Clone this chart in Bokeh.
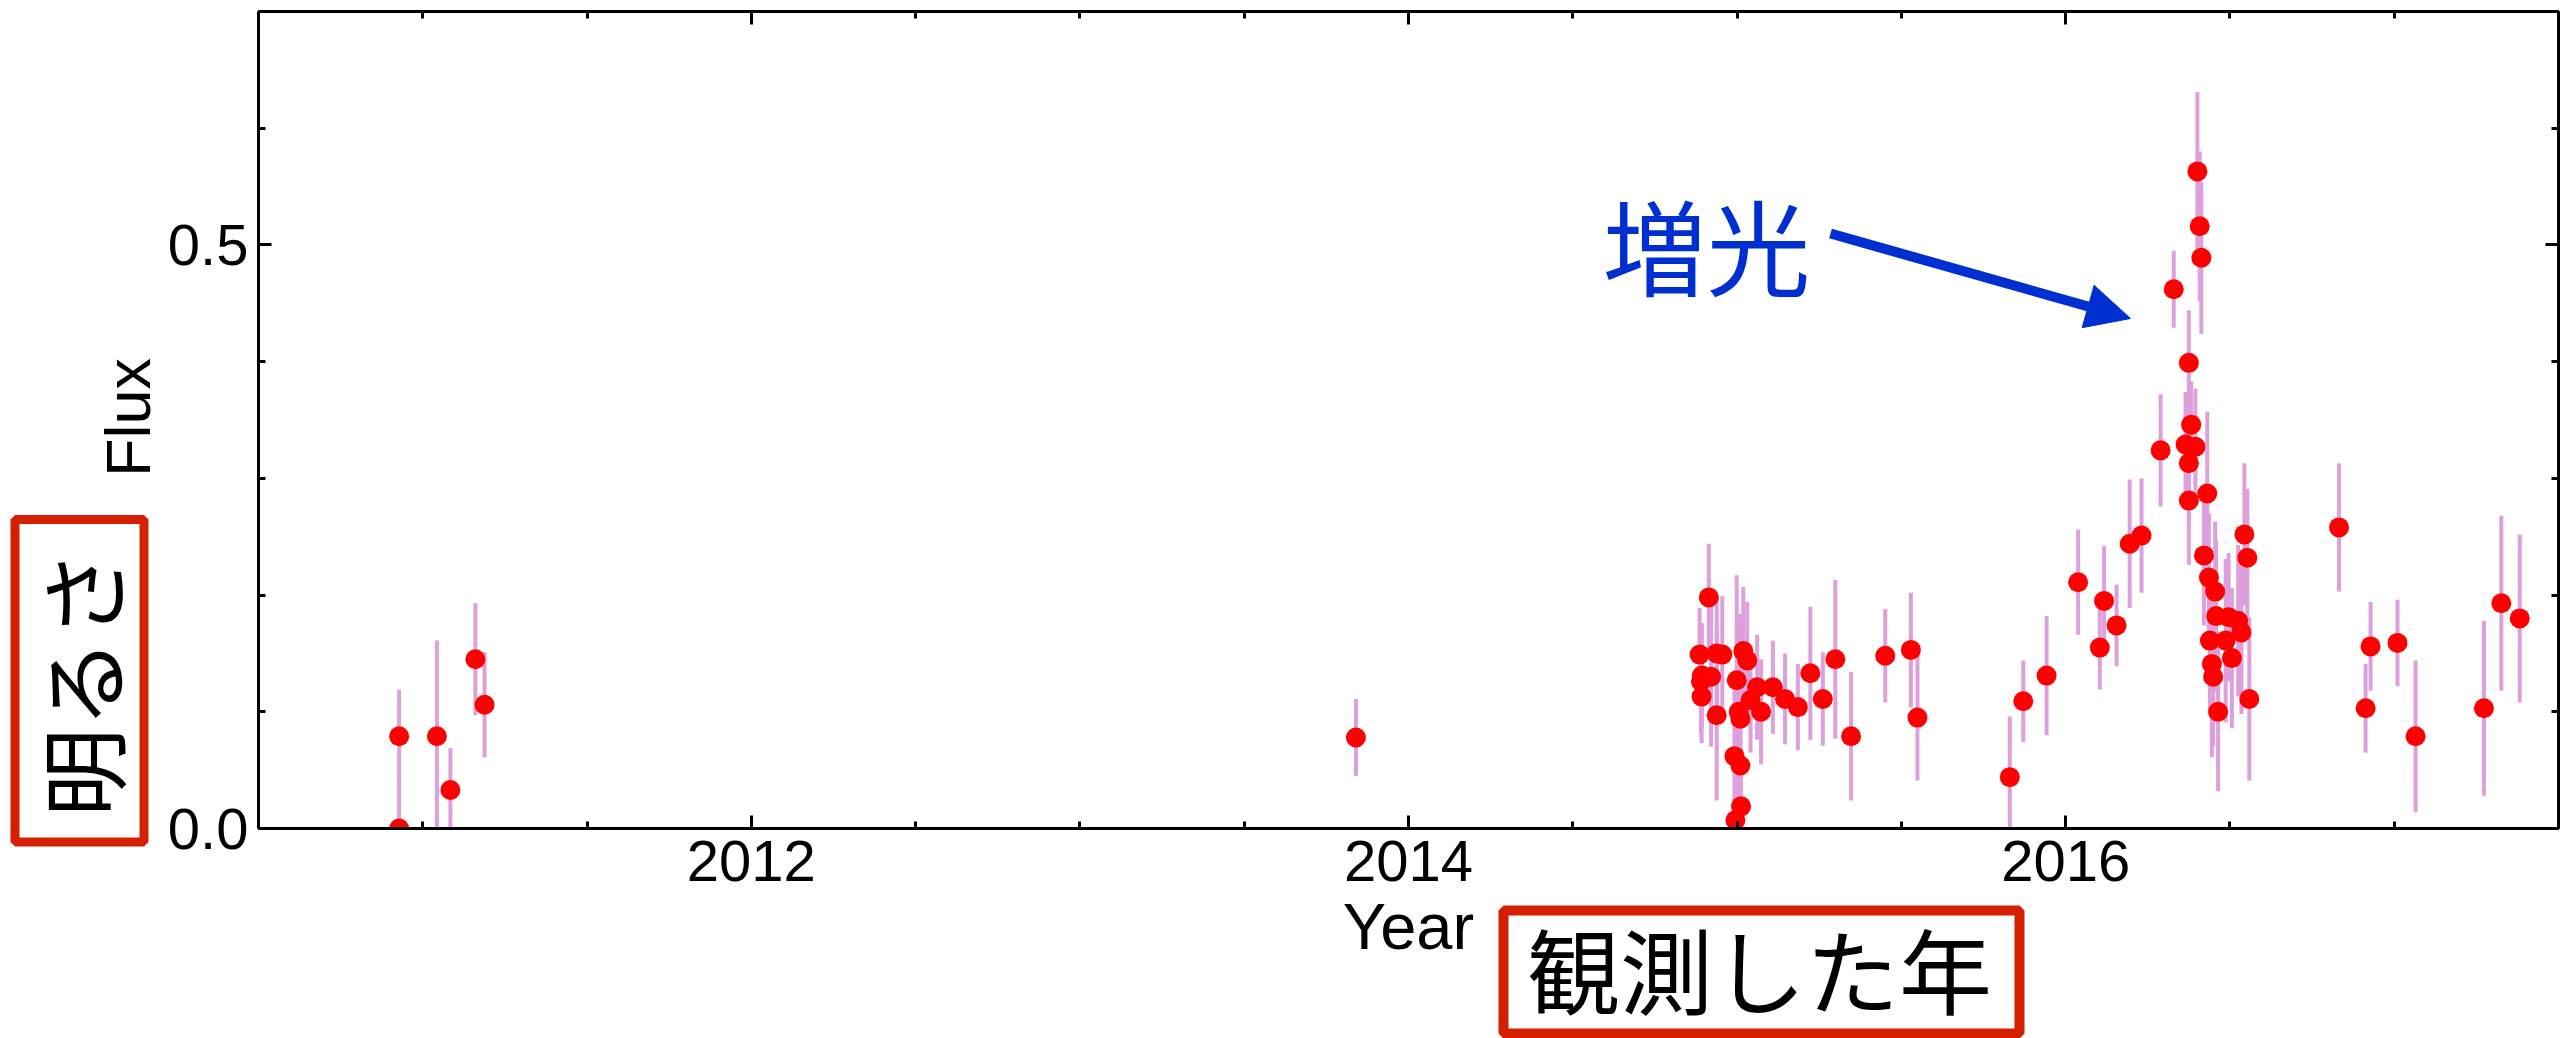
import math
from bokeh.plotting import figure
from bokeh.models import (ColumnDataSource, Range1d, LinearAxis, FixedTicker,
                          Label, Arrow, NormalHead, BoxAnnotation)
from bokeh.embed import file_html
from bokeh.resources import INLINE

# ---------------- data ----------------
year = [
    2010.928, 2010.928, 2011.043, 2011.084, 2011.160, 2011.188, 2013.840,
    2014.886, 2014.890, 2014.892, 2014.893, 2014.914, 2014.921, 2014.938,
    2014.938, 2014.955, 2014.992, 2014.995, 2014.999, 2015.005, 2015.010,
    2015.010, 2015.012, 2015.019, 2015.031, 2015.041, 2015.061, 2015.073,
    2015.109, 2015.146, 2015.185, 2015.223, 2015.261, 2015.299, 2015.347,
    2015.451, 2015.529, 2015.549, 2015.830, 2015.871, 2015.942,
    2016.038, 2016.104, 2016.117, 2016.155, 2016.195, 2016.231, 2016.289,
    2016.329, 2016.365, 2016.375, 2016.375, 2016.375, 2016.382, 2016.395,
    2016.401, 2016.408, 2016.413, 2016.421, 2016.431, 2016.436, 2016.439,
    2016.445, 2016.449, 2016.455, 2016.458, 2016.464, 2016.487, 2016.496,
    2016.506, 2016.525, 2016.535, 2016.544, 2016.553, 2016.559,
    2016.832, 2016.913, 2016.928, 2017.010, 2017.065, 2017.273, 2017.326,
    2017.382,
]
flux = [
    0.079, 0.000, 0.079, 0.033, 0.145, 0.106, 0.078,
    0.149, 0.126, 0.113, 0.131, 0.198, 0.130, 0.150,
    0.097, 0.149, 0.062, 0.007, 0.127, 0.100, 0.094,
    0.054, 0.019, 0.152, 0.144, 0.110, 0.121, 0.100,
    0.121, 0.111, 0.104, 0.133, 0.111, 0.145, 0.079,
    0.148, 0.153, 0.095, 0.044, 0.109, 0.131,
    0.211, 0.155, 0.195, 0.174, 0.244, 0.251, 0.324,
    0.462, 0.329, 0.399, 0.313, 0.281, 0.346, 0.327,
    0.563, 0.516, 0.489, 0.234, 0.287, 0.215, 0.161,
    0.141, 0.130, 0.203, 0.182, 0.100, 0.161, 0.181,
    0.146, 0.178, 0.168, 0.252, 0.232, 0.111,
    0.258, 0.103, 0.156, 0.159, 0.079, 0.103, 0.193,
    0.180,
]
flux_err = [
    0.040, 0.040, 0.082, 0.036, 0.048, 0.045, 0.033,
    0.040, 0.045, 0.040, 0.045, 0.046, 0.060, 0.050,
    0.073, 0.050, 0.060, 0.050, 0.090, 0.080, 0.090,
    0.060, 0.050, 0.055, 0.050, 0.045, 0.045, 0.045,
    0.040, 0.039, 0.037, 0.057, 0.040, 0.068, 0.055,
    0.040, 0.049, 0.054, 0.052, 0.035, 0.051,
    0.045, 0.036, 0.047, 0.035, 0.055, 0.049, 0.048,
    0.033, 0.045, 0.045, 0.050, 0.055, 0.037, 0.050,
    0.068, 0.064, 0.065, 0.060, 0.070, 0.055, 0.060,
    0.080, 0.060, 0.060, 0.065, 0.068, 0.070, 0.055,
    0.060, 0.065, 0.070, 0.061, 0.059, 0.070,
    0.055, 0.038, 0.038, 0.037, 0.065, 0.075, 0.075,
    0.072,
]

x_major_ticks = [2012, 2014, 2016]
x_minor_ticks = [2010.5, 2011.0, 2011.5, 2012.5, 2013.0, 2013.5, 2014.5,
                 2015.0, 2015.5, 2016.5, 2017.0, 2017.5]
y_major_ticks = [0.0, 0.5]
y_minor_ticks = [0.1, 0.2, 0.3, 0.4, 0.6]
y_tick_labels = {0.0: "0.0", 0.5: "0.5"}

x_label = "Year"
y_label = "Flux"
note_text = "増光"
box_x_text = "観測した年"
box_y_text = "明るさ"

# ---------------- style ----------------
RED = "#ff0000"
ERR = "#dda0dd"
BLUE = "#002fd1"
BOXRED = "#d41f00"
LATIN = "Liberation Sans"
CJK = "Noto Sans CJK JP"

W, H = 2575, 1038
# axes box position on the canvas (pixels)
FL, FR, FT, FB = 258, 2558, 11, 828
XMIN, XMAX, YMIN, YMAX = 2010.5, 2017.5, 0.0, 0.7
MAJ_LEN, MIN_LEN = 13, 7


def px2data(ix, iy):
    return (XMIN + (ix - FL) * (XMAX - XMIN) / (FR - FL),
            YMIN + (FB - iy) * (YMAX - YMIN) / (FB - FT))


# the drawing frame covers the whole canvas so that texts outside the
# axes box are not clipped; axes are drawn at fixed locations
x0, y0 = px2data(0, H)
x1, y1 = px2data(W, 0)
p = figure(width=W, height=H, x_range=Range1d(x0, x1),
           y_range=Range1d(y0, y1), output_backend="svg",
           toolbar_location=None, min_border=0)
p.grid.visible = False
p.outline_line_color = None
p.background_fill_color = "white"
p.border_fill_color = "white"

src = ColumnDataSource(dict(
    x=year, y=flux,
    lo=[f - e for f, e in zip(flux, flux_err)],
    hi=[f + e for f, e in zip(flux, flux_err)],
))
p.segment(x0="x", y0="lo", x1="x", y1="hi", source=src,
          line_color=ERR, line_width=4)
p.scatter(x="x", y="y", source=src, size=20, fill_color=RED,
          line_color=RED, line_width=0)
# white mask below the axes box (emulates clipping at flux = 0)
p.quad(left=XMIN - 0.05, right=XMAX, bottom=y0, top=YMIN,
       fill_color="white", line_color=None)


def base_style(ax, loc, bounds):
    ax.fixed_location = loc
    ax.bounds = bounds
    ax.axis_line_color = "black"
    ax.axis_line_width = 3
    ax.major_tick_out = 0
    ax.minor_tick_out = 0
    ax.major_tick_line_width = 3
    ax.minor_tick_line_width = 3
    ax.major_tick_line_color = "black"
    ax.minor_tick_line_color = "black"


def labelled_axis(ax, ticks, minor, loc, bounds):
    base_style(ax, loc, bounds)
    ax.ticker = FixedTicker(ticks=ticks, minor_ticks=minor)
    ax.major_tick_in = MAJ_LEN
    ax.minor_tick_in = MIN_LEN
    ax.major_label_text_font = LATIN
    ax.major_label_text_font_size = "58px"
    ax.major_label_text_color = "black"


def mirror_axes(place, ticks, minor, loc, bounds):
    # ticks only (no labels): drawn as "minor" ticks of two axes
    for tk, ln in ((ticks, MAJ_LEN), (minor, MIN_LEN)):
        ax = LinearAxis()
        base_style(ax, loc, bounds)
        ax.ticker = FixedTicker(ticks=[], minor_ticks=tk)
        ax.minor_tick_in = ln
        ax.major_tick_in = 0
        p.add_layout(ax, place)


labelled_axis(p.xaxis[0], x_major_ticks, x_minor_ticks, YMIN, (XMIN, XMAX))
labelled_axis(p.yaxis[0], y_major_ticks, y_minor_ticks, XMIN, (YMIN, YMAX))
p.xaxis[0].major_label_standoff = 12
p.yaxis[0].major_label_standoff = 10
p.yaxis[0].major_label_overrides = y_tick_labels
p.xaxis[0].axis_label = x_label
p.xaxis[0].axis_label_text_font = LATIN
p.xaxis[0].axis_label_text_font_size = "65px"
p.xaxis[0].axis_label_text_font_style = "normal"
p.xaxis[0].axis_label_text_color = "black"
p.xaxis[0].axis_label_standoff = 6

mirror_axes("above", x_major_ticks, x_minor_ticks, YMAX, (XMIN, XMAX))
mirror_axes("right", y_major_ticks, y_minor_ticks, XMAX, (YMIN, YMAX))

# y axis label placed like the original
fx, fy = px2data(127, 417)
p.add_layout(Label(x=fx, y=fy, text=y_label, angle=math.pi / 2,
                   text_align="center", text_baseline="middle",
                   text_font=LATIN, text_font_size="63px",
                   text_color="black"))

# annotation: arrow + text
sx, sy = px2data(1830, 233)
ex, ey = px2data(2130, 318)
p.add_layout(Arrow(x_start=sx, y_start=sy, x_end=ex, y_end=ey,
                   line_color=BLUE, line_width=10,
                   end=NormalHead(size=44, fill_color=BLUE, line_color=BLUE,
                                  line_width=1)))
tx, ty = px2data(1706, 243)
p.add_layout(Label(x=tx, y=ty, text=note_text, text_align="center",
                   text_baseline="middle", text_font=CJK,
                   text_font_size="104px", text_color=BLUE))

# red boxes with Japanese captions
l, t = px2data(14.5, 519)
r, b = px2data(143.5, 841.5)
p.add_layout(BoxAnnotation(left=l, right=r, top=t, bottom=b,
                           fill_color=None, line_color=BOXRED, line_width=9,
                           line_alpha=1))
cx, cy = px2data(79, 683)
p.add_layout(Label(x=cx, y=cy, text=box_y_text, angle=math.pi / 2,
                   text_align="center", text_baseline="middle",
                   text_font=CJK, text_font_size="89px",
                   text_color="black"))

l, t = px2data(1503, 910)
r, b = px2data(2019, 1033)
p.add_layout(BoxAnnotation(left=l, right=r, top=t, bottom=b,
                           fill_color=None, line_color=BOXRED, line_width=10,
                           line_alpha=1))
cx, cy = px2data(1759, 967)
p.add_layout(Label(x=cx, y=cy, text=box_x_text, text_align="center",
                   text_baseline="middle", text_font=CJK,
                   text_font_size="93px", text_color="black"))

open("out.html", "w").write(file_html(p, INLINE))
